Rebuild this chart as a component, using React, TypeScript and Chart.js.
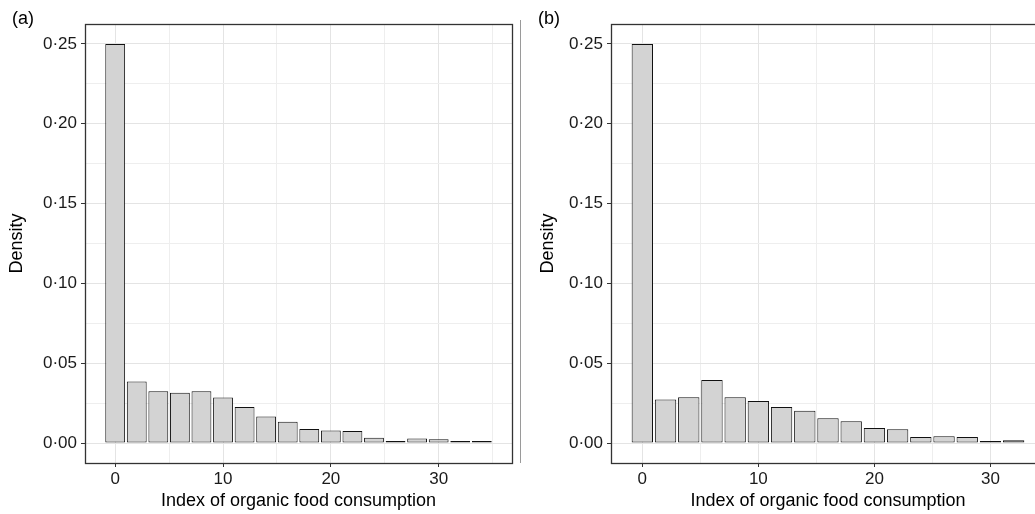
import React, { useEffect, useRef } from "react";
import { Chart, registerables } from "chart.js";

Chart.register(...registerables);

// ---- data ----
const BINS_A = [0, 2, 4, 6, 8, 10, 12, 14, 16, 18, 20, 22, 24, 26, 28, 30, 32, 34];
const DENSITY_A = [0.25, 0.0385, 0.0324, 0.0315, 0.0324, 0.0286, 0.0226, 0.0167, 0.0134, 0.0088, 0.0079, 0.0075, 0.0033, 0.0013, 0.0029, 0.0023, 0.0005, 0.0005];

const BINS_B = [0, 2, 4, 6, 8, 10, 12, 14, 16, 18, 20, 22, 24, 26, 28, 30, 32];
const DENSITY_B = [0.25, 0.0272, 0.0287, 0.0395, 0.0287, 0.0264, 0.0226, 0.0203, 0.0155, 0.0136, 0.0094, 0.0086, 0.0038, 0.0042, 0.0038, 0.0006, 0.0017];

const Y_MAJOR = [0, 0.05, 0.1, 0.15, 0.2, 0.25];
const Y_MINOR = [0.025, 0.075, 0.125, 0.175, 0.225];
const X_MAJOR = [0, 10, 20, 30];
const X_MINOR_A = [5, 15, 25, 35];
const X_MINOR_B = [5, 15, 25];
const Y_RANGE = [-0.0125, 0.2625];
const X_RANGE_A = [-2.8, 36.8];
const X_RANGE_B = [-2.7, 34.7];

const X_TITLE = "Index of organic food consumption";
const Y_TITLE = "Density";

const FONT = "'Liberation Sans', Arial, Helvetica, sans-serif";

const isMajor = (v: number, list: number[]) => list.some((m) => Math.abs(m - v) < 1e-9);

const borderPlugin = {
  id: "panelBorder",
  afterDraw(chart: any) {
    const { ctx, chartArea } = chart;
    ctx.save();
    ctx.strokeStyle = "#333333";
    ctx.lineWidth = 1.3;
    ctx.strokeRect(
      Math.round(chartArea.left) + 0.5,
      Math.round(chartArea.top) + 0.5,
      Math.round(chartArea.right - chartArea.left),
      Math.round(chartArea.bottom - chartArea.top)
    );
    ctx.restore();
  },
};

type PanelProps = {
  bins: number[];
  values: number[];
  xMinor: number[];
  xRange: number[];
  width: number;
  yAxisWidth: number;
  yTitlePad: number;
  padRight: number;
};

function Panel({ bins, values, xMinor, xRange, width, yAxisWidth, yTitlePad, padRight }: PanelProps) {
  const ref = useRef<HTMLCanvasElement | null>(null);
  useEffect(() => {
    if (!ref.current) return;
    const xTicks = [...X_MAJOR, ...xMinor].sort((a, b) => a - b);
    const yTicks = [...Y_MAJOR, ...Y_MINOR].sort((a, b) => a - b);
    const chart = new Chart(ref.current, {
      type: "bar",
      data: {
        datasets: [
          {
            data: bins.map((b, i) => ({ x: b, y: values[i] })),
            backgroundColor: "#d3d3d3",
            borderColor: "#111111",
            borderWidth: 1,
            borderSkipped: false,
            minBarLength: 2,
            barPercentage: 0.92,
            categoryPercentage: 1,
          } as any,
        ],
      },
      options: {
        responsive: false,
        animation: false,
        layout: { padding: { top: 24, left: 0, right: padRight, bottom: 0 } },
        plugins: { legend: { display: false }, tooltip: { enabled: false } },
        scales: {
          x: {
            type: "linear",
            min: xRange[0],
            max: xRange[1],
            offset: false,
            afterBuildTicks: (s: any) => {
              s.ticks = xTicks.map((v) => ({ value: v }));
            },
            afterFit: (s: any) => {
              s.height = 51;
            },
            grid: {
              offset: false,
              drawTicks: true,
              tickLength: 4,
              color: (c: any) => (isMajor(c.tick?.value, X_MAJOR) ? "#e4e4e4" : "#eeeeee"),
              tickColor: (c: any) => (isMajor(c.tick?.value, X_MAJOR) ? "#333333" : "rgba(0,0,0,0)"),
              lineWidth: 1,
            },
            border: { display: false },
            ticks: {
              autoSkip: false,
              maxRotation: 0,
              padding: 2,
              color: "#1a1a1a",
              font: { family: FONT, size: 17 },
              callback: (v: any) => (isMajor(Number(v), X_MAJOR) ? String(v) : ""),
            },
            title: {
              display: true,
              text: X_TITLE,
              color: "#000000",
              font: { family: FONT, size: 18 },
              padding: { top: 0, bottom: 2 },
            },
          },
          y: {
            type: "linear",
            min: Y_RANGE[0],
            max: Y_RANGE[1],
            afterBuildTicks: (s: any) => {
              s.ticks = yTicks.map((v) => ({ value: v }));
            },
            afterFit: (s: any) => {
              s.width = yAxisWidth;
            },
            grid: {
              drawTicks: true,
              tickLength: 4,
              color: (c: any) => (isMajor(c.tick?.value, Y_MAJOR) ? "#e4e4e4" : "#eeeeee"),
              tickColor: (c: any) => (isMajor(c.tick?.value, Y_MAJOR) ? "#333333" : "rgba(0,0,0,0)"),
              lineWidth: 1,
            },
            border: { display: false },
            ticks: {
              autoSkip: false,
              padding: 4,
              color: "#1a1a1a",
              font: { family: FONT, size: 17 },
              callback: (v: any) =>
                isMajor(Number(v), Y_MAJOR) ? Number(v).toFixed(2).replace(".", "\u00B7") : "",
            },
            title: {
              display: true,
              text: Y_TITLE,
              color: "#000000",
              font: { family: FONT, size: 18 },
              padding: { top: yTitlePad, bottom: 0 },
            },
          },
        },
      } as any,
      plugins: [borderPlugin],
    });
    return () => chart.destroy();
  }, []);
  return <canvas ref={ref} width={width} height={514} style={{ display: "block" }} />;
}

export default function App() {
  return (
    <div
      style={{
        position: "fixed",
        left: 0,
        top: 0,
        width: 1035,
        height: 514,
        overflow: "hidden",
        background: "#ffffff",
      }}
    >
      <div style={{ position: "absolute", left: 0, top: 0 }}>
        <Panel
          bins={BINS_A}
          values={DENSITY_A}
          xMinor={X_MINOR_A}
          xRange={X_RANGE_A}
          width={520}
          yAxisWidth={85}
          yTitlePad={6}
          padRight={8}
        />
      </div>
      <div style={{ position: "absolute", left: 520, top: 0 }}>
        <Panel
          bins={BINS_B}
          values={DENSITY_B}
          xMinor={X_MINOR_B}
          xRange={X_RANGE_B}
          width={540}
          yAxisWidth={91}
          yTitlePad={17}
          padRight={15}
        />
      </div>
      <div
        style={{
          position: "absolute",
          left: 520,
          top: 20,
          width: 0,
          height: 443,
          borderLeft: "1px solid #9a9a9a",
        }}
      />
      <div
        style={{
          position: "absolute",
          left: 12,
          top: 9,
          fontFamily: FONT,
          fontSize: 18,
          lineHeight: 1,
          color: "#000",
        }}
      >
        (a)
      </div>
      <div
        style={{
          position: "absolute",
          left: 538,
          top: 9,
          fontFamily: FONT,
          fontSize: 18,
          lineHeight: 1,
          color: "#000",
        }}
      >
        (b)
      </div>
    </div>
  );
}
